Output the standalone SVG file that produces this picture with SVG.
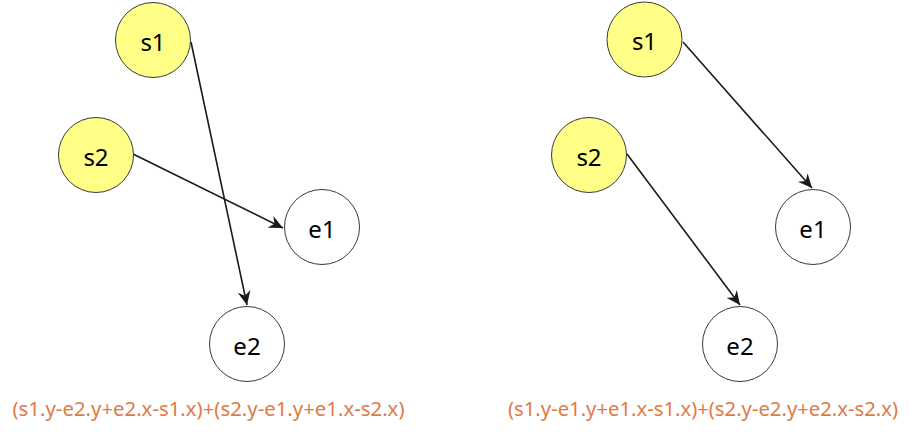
<svg xmlns="http://www.w3.org/2000/svg" width="909" height="437" viewBox="0 0 909 437">
<style>
.s{fill:#FFFF88;stroke:#36393d;stroke-width:1}
.e{fill:#FFFFFF;stroke:#36393d;stroke-width:1}
.t{font-family:"Comic Sans MS","Noto Sans",sans-serif;font-size:24px;fill:#000;text-anchor:middle;dominant-baseline:central}
.f{font-family:"Comic Sans MS","Noto Sans",sans-serif;font-size:19px;fill:#E07A45;text-anchor:middle}
.c{stroke:#1a1a1a;stroke-width:1.6;fill:none;marker-end:url(#ah)}
</style>
<defs>
<marker id="ah" markerWidth="16" markerHeight="16" viewBox="0 0 16 16" refX="14" refY="8" orient="auto" markerUnits="userSpaceOnUse">
<path d="M0,1.5 L14,8 L0,14.5 L4.5,8 Z" fill="#1a1a1a"/>
</marker>
</defs>
<g id="connectors">
<line class="c" x1="191" y1="42" x2="247" y2="305"/>
<line class="c" x1="133" y1="154" x2="283" y2="228"/>
<line class="c" x1="683" y1="42" x2="812" y2="188"/>
<line class="c" x1="627" y1="154" x2="740" y2="305"/>
</g>
<g id="L-s1"><circle class="s" cx="153" cy="40" r="37.5"/><text class="t" x="153" y="41">s1</text></g>
<g id="L-s2"><circle class="s" cx="96" cy="155" r="37.5"/><text class="t" x="96" y="156">s2</text></g>
<g id="L-e1"><circle class="e" cx="322" cy="227" r="37.5"/><text class="t" x="322" y="228">e1</text></g>
<g id="L-e2"><circle class="e" cx="247" cy="344" r="37.5"/><text class="t" x="247" y="345">e2</text></g>
<g id="R-s1"><circle class="s" cx="644.5" cy="39.5" r="37.5"/><text class="t" x="644.5" y="40.5">s1</text></g>
<g id="R-s2"><circle class="s" cx="589" cy="155" r="37.5"/><text class="t" x="589" y="156">s2</text></g>
<g id="R-e1"><circle class="e" cx="813" cy="227" r="37.5"/><text class="t" x="813" y="228">e1</text></g>
<g id="R-e2"><circle class="e" cx="740" cy="344" r="37.5"/><text class="t" x="740" y="345">e2</text></g>
<text class="f" x="208.5" y="416" textLength="392" lengthAdjust="spacingAndGlyphs">(s1.y-e2.y+e2.x-s1.x)+(s2.y-e1.y+e1.x-s2.x)</text>
<text class="f" x="703" y="416" textLength="390" lengthAdjust="spacingAndGlyphs">(s1.y-e1.y+e1.x-s1.x)+(s2.y-e2.y+e2.x-s2.x)</text>
</svg>
